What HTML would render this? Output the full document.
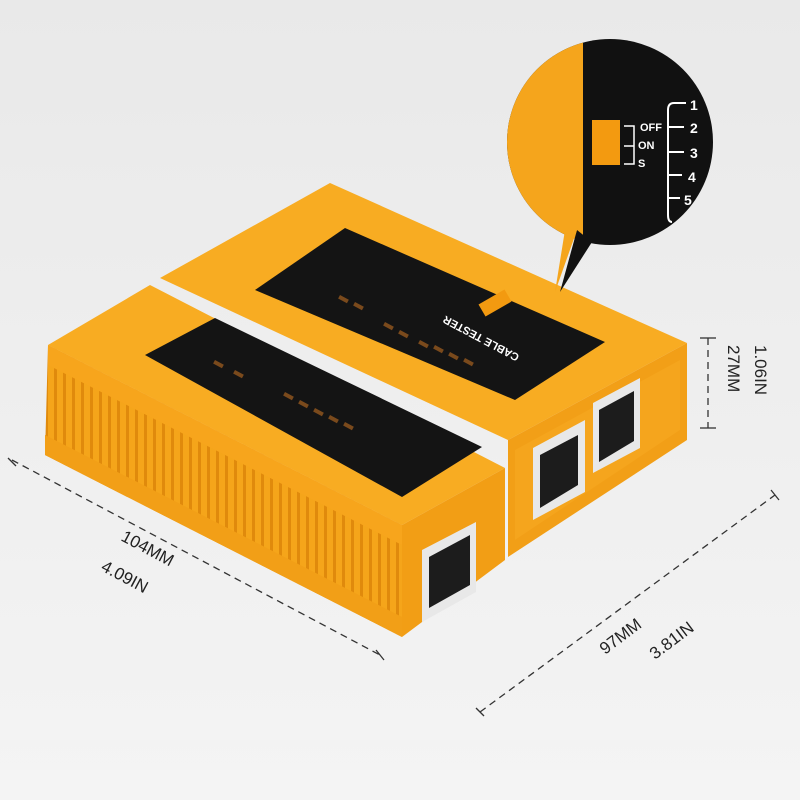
<!DOCTYPE html>
<html><head><meta charset="utf-8"><style>
html,body{margin:0;padding:0;width:800px;height:800px;overflow:hidden;background:#ececec}
svg{display:block}
text{font-family:"Liberation Sans",sans-serif}
</style></head><body>
<svg width="800" height="800" viewBox="0 0 800 800" xmlns="http://www.w3.org/2000/svg">
<defs>
<linearGradient id="bg" x1="0" y1="0" x2="0" y2="1"><stop offset="0" stop-color="#e9e9e9"/><stop offset="1" stop-color="#f4f4f4"/></linearGradient>
<pattern id="ribs" width="9" height="10" patternUnits="userSpaceOnUse">
<rect width="9" height="10" fill="#f5a51a"/><rect width="3" height="10" fill="#e08a0c"/></pattern>
<clipPath id="circ"><circle cx="610" cy="142" r="103"/></clipPath>
</defs>
<rect width="800" height="800" fill="url(#bg)"/>

<!-- master unit -->
<polygon points="160,278 330,183 687,343 508,440" fill="#f8ac22"/>
<polygon points="508,440 687,343 687,440 508,557" fill="#f29f17"/>
<polygon points="515,450 680,360 680,430 515,540" fill="#f5a51d"/>
<polygon points="255,290 345,228 605,342 515,400" fill="#141414"/>
<g fill="#7a4a1c">
<rect x="420" y="340" width="10" height="4" transform="rotate(28 420 340)"/>
<rect x="435" y="345" width="10" height="4" transform="rotate(28 435 345)"/>
<rect x="450" y="352" width="10" height="4" transform="rotate(28 450 352)"/>
<rect x="465" y="358" width="10" height="4" transform="rotate(28 465 358)"/>
<rect x="400" y="330" width="10" height="4" transform="rotate(28 400 330)"/>
<rect x="385" y="322" width="10" height="4" transform="rotate(28 385 322)"/>
<rect x="340" y="295" width="10" height="4" transform="rotate(28 340 295)"/>
<rect x="355" y="302" width="10" height="4" transform="rotate(28 355 302)"/>
</g>
<rect x="480" y="296" width="30" height="14" fill="#f39a10" transform="rotate(-30 495 303)"/>
<text x="520" y="355" fill="#fff" font-size="11" font-weight="bold" transform="rotate(208 520 355)">CABLE TESTER</text>
<polygon points="533,448 585,420 585,492 533,520" fill="#e8e8e8"/>
<polygon points="540,455 578,435 578,485 540,508" fill="#1c1c1c"/>
<polygon points="593,403 640,378 640,448 593,473" fill="#e8e8e8"/>
<polygon points="599,410 634,391 634,441 599,462" fill="#1c1c1c"/>

<!-- remote unit -->
<polygon points="48,345 150,285 505,468 402,525" fill="#f8ac22"/>
<polygon points="48,345 402,525 402,637 45,455" fill="url(#ribs)"/>
<polygon points="48,345 402,525 402,545 48,365" fill="#f7a51c"/>
<polygon points="45,435 402,617 402,637 45,455" fill="#f29f17"/>
<polygon points="402,525 505,468 505,560 402,637" fill="#f29e15"/>
<polygon points="145,355 215,318 482,447 402,497" fill="#141414"/>
<g fill="#7a4a1c">
<rect x="300" y="400" width="10" height="4" transform="rotate(28 300 400)"/>
<rect x="315" y="408" width="10" height="4" transform="rotate(28 315 408)"/>
<rect x="330" y="415" width="10" height="4" transform="rotate(28 330 415)"/>
<rect x="345" y="422" width="10" height="4" transform="rotate(28 345 422)"/>
<rect x="285" y="392" width="10" height="4" transform="rotate(28 285 392)"/>
<rect x="215" y="360" width="10" height="4" transform="rotate(28 215 360)"/>
<rect x="235" y="370" width="10" height="4" transform="rotate(28 235 370)"/>
</g>
<polygon points="422,550 476,522 476,592 422,622" fill="#e8e8e8"/>
<polygon points="429,557 470,535 470,585 429,608" fill="#1c1c1c"/>

<!-- inset -->
<g clip-path="url(#circ)">
<rect x="500" y="30" width="300" height="230" fill="#111"/>
<rect x="500" y="30" width="83" height="230" fill="#f5a51c"/>
<rect x="592" y="120" width="28" height="45" fill="#f39a10"/>
</g>
<polygon points="577,230 592,242 560,292" fill="#111"/>
<polygon points="565,230 577,230 555,292" fill="#f5a51c"/>
<g fill="#fff" font-size="11" font-weight="bold">
<text x="640" y="131">OFF</text><text x="638" y="149">ON</text><text x="638" y="167">S</text>
<text x="690" y="110" font-size="14">1</text><text x="690" y="133" font-size="14">2</text><text x="690" y="158" font-size="14">3</text><text x="688" y="182" font-size="14">4</text><text x="684" y="205" font-size="14">5</text>
</g>
<path d="M686,103 H674 Q668,103 668,110 V215 Q668,222 672,222 M668,127 H684 M668,152 H684 M668,175 H682 M668,198 H680" stroke="#fff" stroke-width="2" fill="none"/>
<path d="M624,126 H634 V164 H624 M624,146 H634" stroke="#fff" stroke-width="1.5" fill="none"/>

<!-- dimensions -->
<g stroke="#333" stroke-width="1.3" stroke-dasharray="7,5" fill="none">
<line x1="12" y1="460" x2="380" y2="655"/>
<line x1="480" y1="712" x2="775" y2="495"/>
<line x1="708" y1="338" x2="708" y2="428"/>
</g>
<g stroke="#333" stroke-width="1.3">
<line x1="8" y1="458" x2="16" y2="466"/><line x1="376" y1="650" x2="384" y2="660"/>
<line x1="476" y1="708" x2="484" y2="716"/><line x1="771" y1="490" x2="779" y2="500"/>
<line x1="700" y1="338" x2="716" y2="338"/><line x1="700" y1="428" x2="716" y2="428"/>
</g>
<g fill="#222" font-size="17">
<text x="120" y="540" transform="rotate(28 120 540)">104MM</text>
<text x="100" y="570" transform="rotate(28 100 570)">4.09IN</text>
<text x="605" y="655" transform="rotate(-37 605 655)">97MM</text>
<text x="655" y="660" transform="rotate(-37 655 660)">3.81IN</text>
<text x="728" y="345" transform="rotate(90 728 345)">27MM</text>
<text x="755" y="345" transform="rotate(90 755 345)">1.06IN</text>
</g>
</svg>
</body></html>
